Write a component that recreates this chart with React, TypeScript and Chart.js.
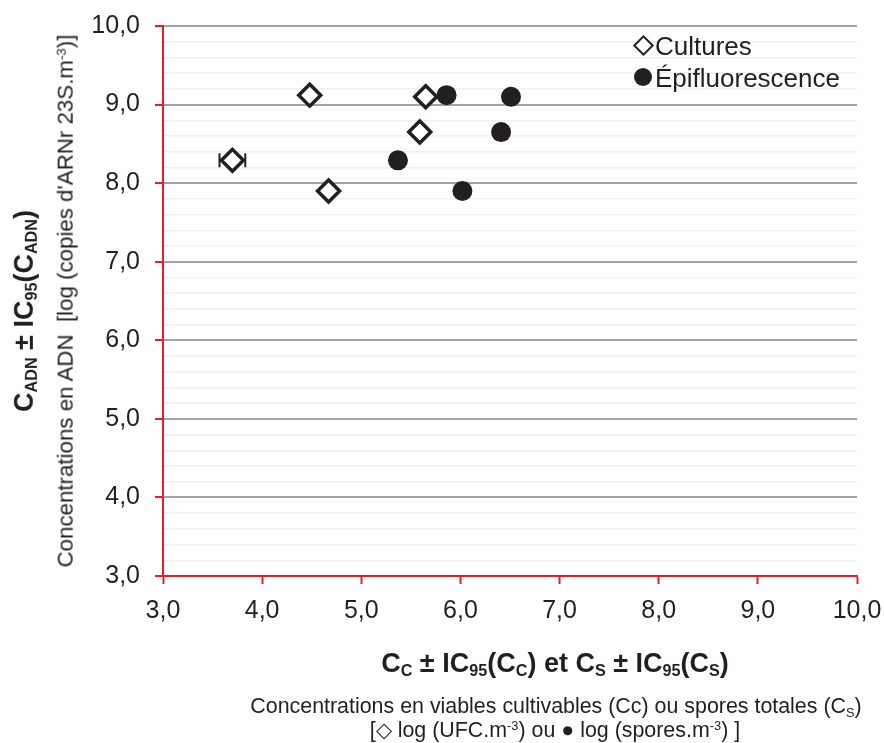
import React, { useEffect, useRef } from "react";
import { Chart, registerables } from "chart.js";

Chart.register(...registerables);

// ---- data ----
const culturesX = [3.70, 4.48, 4.67, 5.59, 5.65];
const culturesY = [8.29, 9.12, 7.90, 8.65, 9.10];
const culturesXErr = [0.13, 0.04, 0.04, 0.04, 0.04];
const culturesYErr = [0.03, 0.03, 0.03, 0.03, 0.03];

const epiX = [5.37, 5.86, 6.02, 6.41, 6.51];
const epiY = [8.29, 9.12, 7.90, 8.65, 9.10];
const epiXErr = [0.04, 0.06, 0.04, 0.04, 0.04];
const epiYErr = [0.03, 0.03, 0.03, 0.03, 0.03];

const axisMin = 3;
const axisMax = 10;
const legendLabels = ["Cultures", "Épifluorescence"];

const RED = "#ed1c24";
const INK = "#231f20";
const FONT = "'Liberation Sans', Arial, Helvetica, sans-serif";

const isMajor = (v: number) => Math.abs(v - Math.round(v)) < 1e-6;
const fmt = (v: number) => v.toFixed(1).replace(".", ",");

const errorBarPlugin = {
  id: "errorBars",
  beforeDatasetsDraw(chart: any) {
    const ctx = chart.ctx;
    const xs = chart.scales.x;
    const ys = chart.scales.y;
    ctx.save();
    ctx.strokeStyle = INK;
    ctx.lineWidth = 2;
    chart.data.datasets.forEach((ds: any) => {
      ds.data.forEach((p: any, i: number) => {
        const cx = xs.getPixelForValue(p.x);
        const cy = ys.getPixelForValue(p.y);
        const xe = ds.xErr[i];
        const ye = ds.yErr[i];
        const x0 = xs.getPixelForValue(p.x - xe);
        const x1 = xs.getPixelForValue(p.x + xe);
        const y0 = ys.getPixelForValue(p.y - ye);
        const y1 = ys.getPixelForValue(p.y + ye);
        const cap = 7;
        ctx.beginPath();
        ctx.moveTo(x0, cy); ctx.lineTo(x1, cy);
        ctx.moveTo(x0, cy - cap); ctx.lineTo(x0, cy + cap);
        ctx.moveTo(x1, cy - cap); ctx.lineTo(x1, cy + cap);
        ctx.moveTo(cx, y0); ctx.lineTo(cx, y1);
        ctx.moveTo(cx - cap, y0); ctx.lineTo(cx + cap, y0);
        ctx.moveTo(cx - cap, y1); ctx.lineTo(cx + cap, y1);
        ctx.stroke();
      });
    });
    ctx.restore();
  },
};

export default function App() {
  const ref = useRef<HTMLCanvasElement>(null);

  useEffect(() => {
    document.body.style.margin = "0";
    const canvas = ref.current;
    if (!canvas) return;
    const chart = new Chart(canvas, {
      type: "scatter",
      data: {
        datasets: [
          {
            label: legendLabels[0],
            data: culturesX.map((x, i) => ({ x, y: culturesY[i] })),
            xErr: culturesXErr,
            yErr: culturesYErr,
            pointStyle: "rectRot",
            pointRadius: 11,
            pointBorderWidth: 3.5,
            pointBorderColor: INK,
            pointBackgroundColor: "#ffffff",
          } as any,
          {
            label: legendLabels[1],
            data: epiX.map((x, i) => ({ x, y: epiY[i] })),
            xErr: epiXErr,
            yErr: epiYErr,
            pointStyle: "circle",
            pointRadius: 10,
            pointBorderWidth: 0,
            pointBorderColor: INK,
            pointBackgroundColor: INK,
          } as any,
        ],
      },
      options: {
        responsive: false,
        animation: false,
        devicePixelRatio: 1,
        layout: { padding: { top: 26, right: 27, left: 0, bottom: 0 } },
        plugins: { legend: { display: false }, tooltip: { enabled: false } },
        scales: {
          x: {
            type: "linear",
            min: axisMin,
            max: axisMax,
            ticks: {
              stepSize: 1,
              autoSkip: false,
              maxRotation: 0,
              padding: 12,
              color: INK,
              font: { family: FONT, size: 25 },
              callback: (v: any) => fmt(Number(v)),
            },
            grid: {
              drawOnChartArea: false,
              drawTicks: true,
              tickLength: 8,
              tickColor: RED,
              tickWidth: 2,
            },
            border: { color: RED, width: 2 },
            afterFit: (s: any) => {
              s.height = 167;
              s.paddingLeft = 0;
              s.paddingRight = 0;
            },
          },
          y: {
            type: "linear",
            min: axisMin,
            max: axisMax,
            ticks: {
              stepSize: 0.2,
              autoSkip: false,
              padding: 15,
              color: INK,
              font: { family: FONT, size: 25 },
              callback: (v: any) => (isMajor(Number(v)) ? fmt(Number(v)) : ""),
            },
            grid: {
              drawTicks: true,
              tickLength: 8,
              color: (c: any) => {
                const v = c.tick ? c.tick.value : 0;
                if (Math.abs(v - axisMin) < 1e-6) return "rgba(0,0,0,0)";
                return isMajor(v) ? "#a3a3a3" : "#f0f0f0";
              },
              lineWidth: (c: any) => {
                const v = c.tick ? c.tick.value : 0;
                return isMajor(v) ? 2 : 1.5;
              },
              tickColor: (c: any) => {
                const v = c.tick ? c.tick.value : 0;
                return isMajor(v) ? RED : "rgba(0,0,0,0)";
              },
              tickWidth: 2,
            },
            border: { color: RED, width: 2 },
            afterFit: (s: any) => {
              s.width = 163;
              s.paddingTop = 0;
              s.paddingBottom = 0;
            },
          },
        },
      } as any,
      plugins: [errorBarPlugin],
    });
    return () => chart.destroy();
  }, []);

  const abs = (style: React.CSSProperties): React.CSSProperties => ({
    position: "absolute",
    fontFamily: FONT,
    color: INK,
    whiteSpace: "nowrap",
    lineHeight: 1,
    ...style,
  });
  const sub: React.CSSProperties = { fontSize: "0.6em", verticalAlign: "-0.25em" };
  const sup: React.CSSProperties = { fontSize: "0.6em", verticalAlign: "0.55em" };

  return (
    <div style={{ position: "relative", width: 884, height: 743, background: "#fff" }}>
      <canvas ref={ref} width={884} height={743} style={{ display: "block" }} />

      {/* Legend */}
      <div
        style={{
          position: "absolute",
          left: 636,
          top: 38,
          width: 11,
          height: 11,
          border: `2.5px solid ${INK}`,
          background: "#fff",
          transform: "rotate(45deg)",
        }}
      />
      <div style={abs({ left: 655, top: 33, fontSize: 26 })}>{legendLabels[0]}</div>
      <div
        style={{
          position: "absolute",
          left: 634,
          top: 68,
          width: 18,
          height: 18,
          borderRadius: "50%",
          background: INK,
        }}
      />
      <div style={abs({ left: 655, top: 65, fontSize: 26 })}>{legendLabels[1]}</div>

      {/* Y titles */}
      <div
        style={abs({
          left: 25,
          top: 311,
          fontSize: 27,
          fontWeight: "bold",
          transform: "translate(-50%, -50%) rotate(-90deg)",
        })}
      >
        C<span style={sub}>ADN</span> ± IC<span style={sub}>95</span>(C<span style={sub}>ADN</span>)
      </div>
      <div
        style={abs({
          left: 66,
          top: 301,
          fontSize: 22.3,
          transform: "translate(-50%, -50%) rotate(-90deg)",
        })}
      >
        Concentrations en ADN&nbsp;&nbsp;[log (copies d'ARNr 23S.m<span style={sup}>-3</span>)]
      </div>

      {/* X titles */}
      <div
        style={abs({
          left: 555,
          top: 664,
          fontSize: 27,
          fontWeight: "bold",
          transform: "translate(-50%, -50%)",
        })}
      >
        C<span style={sub}>C</span> ± IC<span style={sub}>95</span>(C<span style={sub}>C</span>) et C
        <span style={sub}>S</span> ± IC<span style={sub}>95</span>(C<span style={sub}>S</span>)
      </div>
      <div
        style={abs({
          left: 556,
          top: 708,
          fontSize: 21.4,
          transform: "translate(-50%, -50%)",
        })}
      >
        Concentrations en viables cultivables (Cc) ou spores totales (C<span style={sub}>S</span>)
      </div>
      <div
        style={abs({
          left: 555,
          top: 731,
          fontSize: 21.4,
          transform: "translate(-50%, -50%)",
        })}
      >
        [◇ log (UFC.m<span style={sup}>-3</span>) ou ● log (spores.m<span style={sup}>-3</span>) ]
      </div>
    </div>
  );
}
